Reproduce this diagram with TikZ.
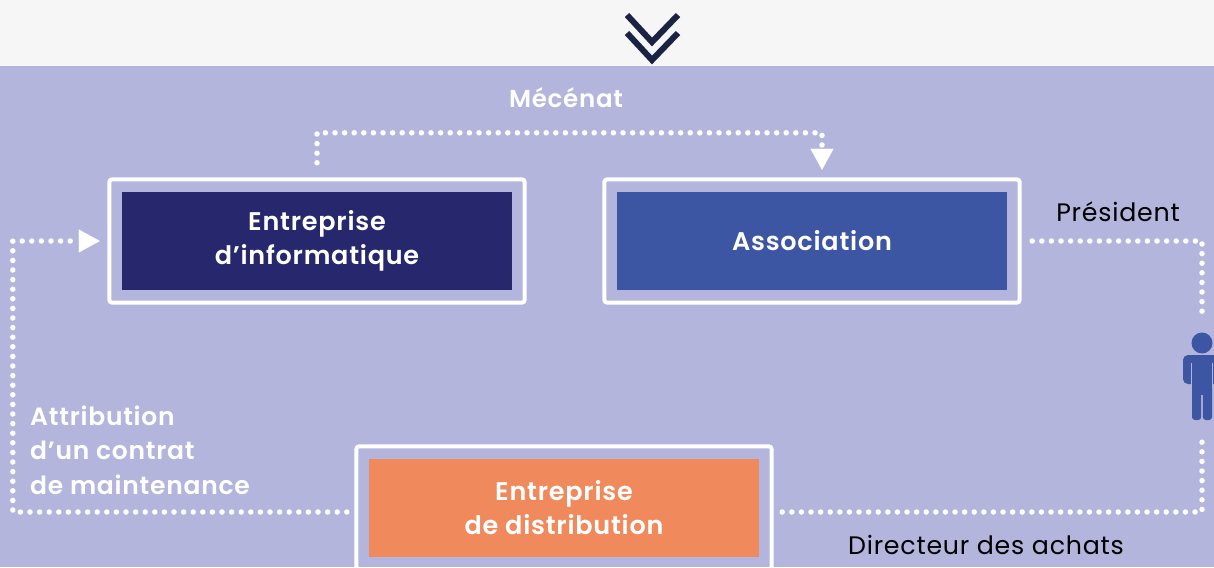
\documentclass[tikz,border=0pt]{standalone}
\usepackage{fontspec}
\setmainfont{Poppins}[LetterSpace=3, BoldFont={Poppins SemiBold}]
\usetikzlibrary{arrows.meta}
\definecolor{gristop}{HTML}{F6F6F6}
\definecolor{lavande}{HTML}{B3B5DC}
\definecolor{marine}{HTML}{27276E}
\definecolor{bleu}{HTML}{3D56A3}
\definecolor{corail}{HTML}{F08A5D}
\definecolor{nuit}{HTML}{1B2343}
\begin{document}
\begin{tikzpicture}[x=1pt,y=-1pt,
    box/.style={fill=#1, text=white, font=\fontsize{25.5}{34}\selectfont\bfseries,
      align=center, minimum width=390pt, minimum height=98pt, inner sep=0pt},
    frame/.style={draw=white, line width=4pt, rounded corners=3pt},
    dots/.style={draw=white, line width=5.5pt, line cap=round, dash pattern=on 0pt off 9.6pt},
    tip/.style={-{Triangle[width=23pt,length=21pt,line width=0.1pt]}},
    lbl/.style={font=\fontsize{25.3}{34.5}\selectfont, inner sep=0pt}
  ]
        \useasboundingbox (0,0) rectangle (1214,567);
        \fill[gristop] (0,0) rectangle (1214,66);
        \fill[lavande] (0,66) rectangle (1214,567);

        % double chevron
        \draw[nuit, line width=6pt] (627,15) -- (652,42) -- (678,15);
        \draw[nuit, line width=6pt] (627,33) -- (652,60) -- (678,33);

        \node[box=marine] (info) at (317,241) {Entreprise\\d’informatique};
        \node[box=bleu] (asso) at (812,241) {Association};
        \node[box=corail] (distrib) at (564,508) {Entreprise\\de distribution};

        \foreach \b in {info,asso,distrib}
            \draw[frame] ([xshift=-12.5pt,yshift=12.5pt]\b.north west) rectangle ([xshift=12.5pt,yshift=-12.5pt]\b.south east);

        % person icon
        \node[minimum width=38pt, minimum height=88pt, inner sep=0pt] (person) at (1202,376) {};
        \fill[bleu] (1202,343) circle (10.5);
        \fill[bleu, rounded corners=5pt] (1183,384) -- (1183,355) -- (1221,355) -- (1221,384) -- cycle;
        \fill[bleu] (1192,370) rectangle (1212,395);
        \fill[bleu, rounded corners=3pt] (1192,385) rectangle (1201.2,420);
        \fill[bleu, rounded corners=3pt] (1202.8,385) rectangle (1212,420);
        \draw[lavande, line width=1.5pt] (1191.3,363) -- (1191.3,386);
        \draw[lavande, line width=1.5pt] (1212.7,363) -- (1212.7,386);

        % connectors
        \draw[dots,tip] ([yshift=29pt]info.north) -- ++(0,-30) -| ([xshift=10pt,yshift=22pt]asso.north);
        \draw[dots,tip] ([xshift=-22pt,yshift=-4pt]distrib.west) -| ([xshift=-109pt]info.west) -- ([xshift=-22pt]info.west);
        \draw[dots] ([xshift=25pt]asso.east) -| ([yshift=12pt]person.north);
        \draw[dots] ([yshift=-22pt]person.south) |- ([xshift=21pt,yshift=-4pt]distrib.east);

        \node[lbl, text=white, font=\fontsize{24.5}{34.5}\selectfont\bfseries] (mecenat) at (566,98) {Mécénat};
        \node[lbl] (president) at (1118,212) {Président};
        \node[lbl] (directeur) at (986,545) {Directeur des achats};
        \node[lbl, text=white, font=\fontsize{25}{34.5}\selectfont\bfseries, align=left, anchor=west] (attrib) at (30,450) {Attribution\\d’un contrat\\de maintenance};
    \end{tikzpicture}
\end{document}
